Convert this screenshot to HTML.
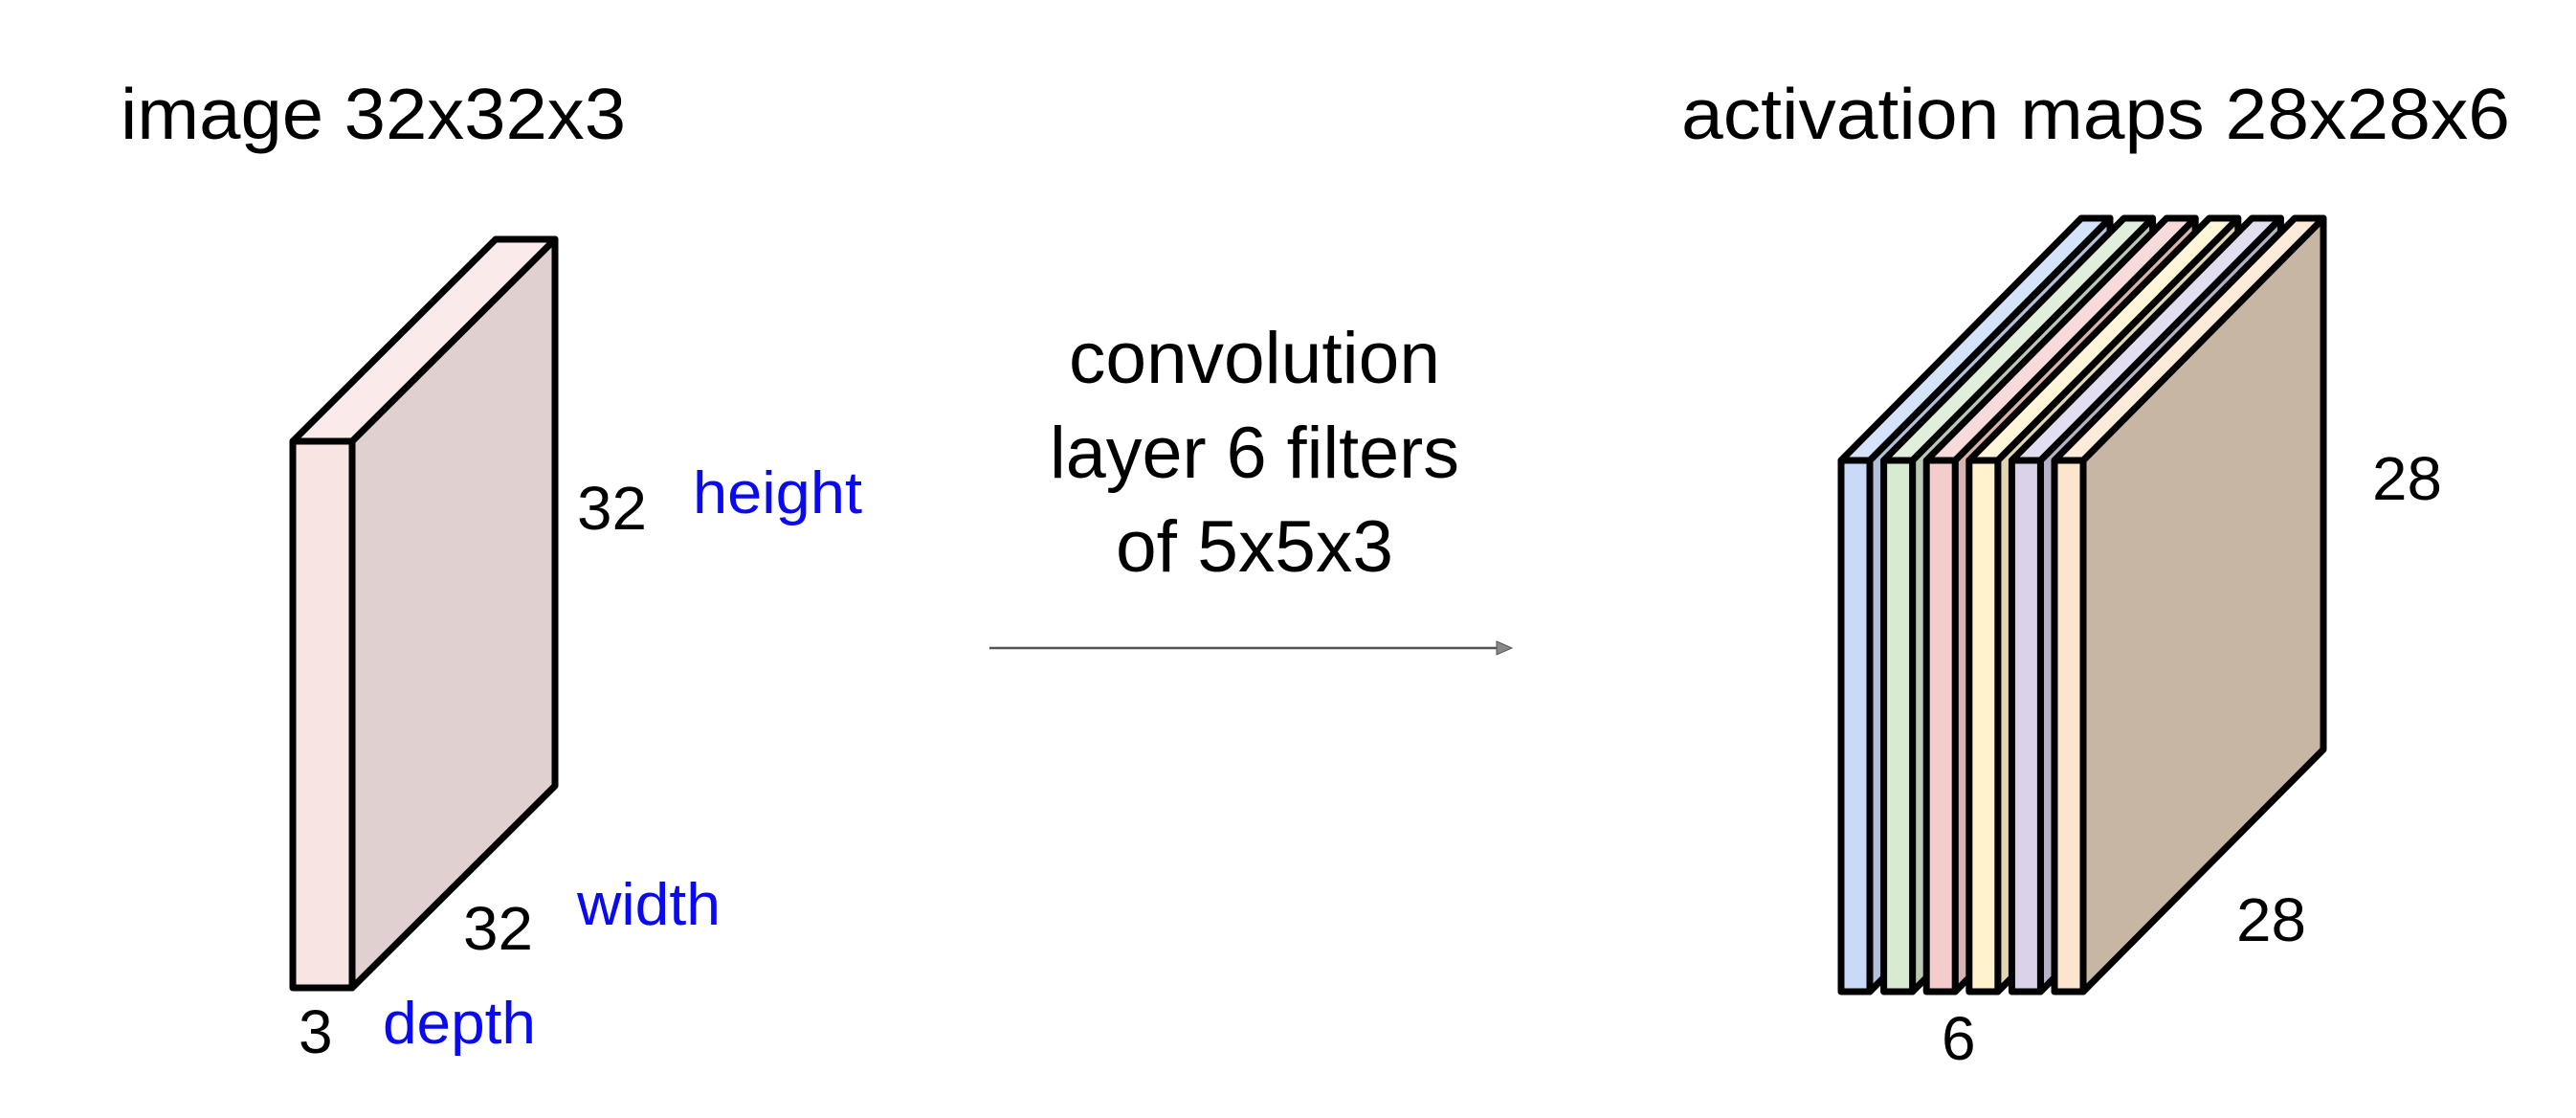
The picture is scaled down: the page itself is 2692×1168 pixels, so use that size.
<!DOCTYPE html>
<html><head><meta charset="utf-8"><style>
html,body{margin:0;padding:0;background:#fff;}
svg{display:block;}
text{font-family:"Liberation Sans",Arial,sans-serif;}
</style></head>
<body>
<svg id="fig" width="2692" height="1168" viewBox="0 0 2692 1168" xmlns="http://www.w3.org/2000/svg">
  <rect width="2692" height="1168" fill="#fff"/>
  <text x="126" y="145" font-size="75" textLength="528" lengthAdjust="spacingAndGlyphs">image 32x32x3</text>
  <text x="1757" y="145" font-size="75" textLength="866" lengthAdjust="spacingAndGlyphs">activation maps 28x28x6</text>

  <g id="input"></g>

  <text x="603" y="553" font-size="64" textLength="73" lengthAdjust="spacingAndGlyphs">32</text>
  <text x="724" y="536" font-size="62" fill="#0a0af0" textLength="177" lengthAdjust="spacingAndGlyphs">height</text>
  <text x="484" y="992" font-size="64" textLength="73" lengthAdjust="spacingAndGlyphs">32</text>
  <text x="603" y="966" font-size="62" fill="#0a0af0" textLength="150" lengthAdjust="spacingAndGlyphs">width</text>
  <text x="312" y="1100" font-size="64">3</text>
  <text x="400" y="1090" font-size="62" fill="#0a0af0" textLength="160" lengthAdjust="spacingAndGlyphs">depth</text>

  <text x="1311" y="400" font-size="76" text-anchor="middle" textLength="388" lengthAdjust="spacingAndGlyphs">convolution</text>
  <text x="1311" y="499" font-size="76" text-anchor="middle" textLength="428" lengthAdjust="spacingAndGlyphs">layer 6 filters</text>
  <text x="1311" y="597" font-size="76" text-anchor="middle" textLength="290" lengthAdjust="spacingAndGlyphs">of 5x5x3</text>
  <g>
    <line x1="1034" y1="677" x2="1568" y2="677" stroke="#555" stroke-width="2.5"/>
    <polygon points="1564,670 1580,677 1564,684" fill="#888" stroke="#555" stroke-width="1"/>
  </g>

  <g id="output"></g>

  <text x="2479" y="522" font-size="64" textLength="73" lengthAdjust="spacingAndGlyphs">28</text>
  <text x="2337" y="983" font-size="64" textLength="73" lengthAdjust="spacingAndGlyphs">28</text>
  <text x="2029" y="1107" font-size="64">6</text>
</svg>
<script>
const frontColors = ['#c9daf8','#d9ead3','#f4cccc','#fff2cc','#d9d2e9','#fce5cd'];
const sideColors  = ['#b2c0da','#b9c9b3','#d8b1b1','#e2d6b2','#b7b1c7','#c8b6a4'];
const topColors   = ['#d4e2fa','#e0eedb','#f8dada','#fff6d9','#e2ddef','#fdebd9'];
const NS='http://www.w3.org/2000/svg';
function poly(parent, pts, fill){
  const p=document.createElementNS(NS,'polygon');
  p.setAttribute('points', pts.map(q=>q.join(',')).join(' '));
  p.setAttribute('fill', fill);
  p.setAttribute('stroke','#000');
  p.setAttribute('stroke-width','7');
  p.setAttribute('stroke-linejoin','round');
  parent.appendChild(p);
  return p;
}
function slab(parent, x, y, w, h, dx, dy, front, side, top, name){
  const g=document.createElementNS(NS,'g');
  
  
  parent.appendChild(g);
  poly(g, [[x+w,y],[x+w+dx,y+dy],[x+w+dx,y+h+dy],[x+w,y+h]], side);
  poly(g, [[x,y],[x+dx,y+dy],[x+w+dx,y+dy],[x+w,y]], top);
  poly(g, [[x,y],[x+w,y],[x+w,y+h],[x,y+h]], front);
}
slab(document.getElementById('input'), 306, 461, 62, 571, 212, -211, '#f9e4e4', '#e0d0d0', '#fbeaea', 'input-slab');
const out=document.getElementById('output');
for(let i=0;i<frontColors.length;i++){
  slab(out, 1924 + i*44.6, 481, 30, 555, 251, -253, frontColors[i], sideColors[i], topColors[i], 'activation-map-'+(i+1));
}
</script>
</body></html>
